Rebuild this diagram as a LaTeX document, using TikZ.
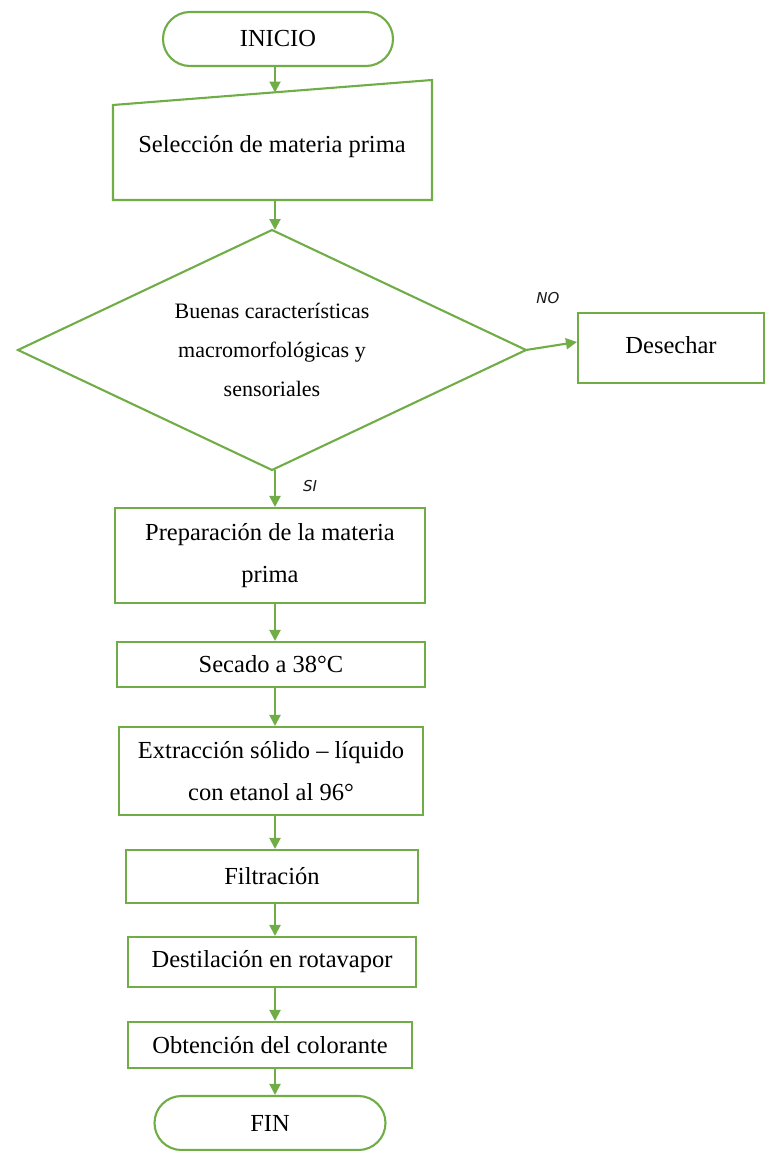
\documentclass[tikz,border=0pt]{standalone}
\usepackage{fontspec}
\setmainfont{Liberation Serif}
\newfontfamily\tagfont{DejaVu Sans}
\usetikzlibrary{shapes.misc,arrows.meta,calc}
\definecolor{flowgreen}{HTML}{70AD47}
\definecolor{tagink}{HTML}{1A1A1A}

\begin{document}
\begin{tikzpicture}[x=1pt,y=-1pt,
  outline/.style={draw=flowgreen,line width=2.1pt},
  txt/.style={font=\fontsize{24.5}{42}\selectfont,align=center,inner sep=0pt},
  stepbox/.style={outline,rectangle,txt},
  terminal/.style={outline,rounded rectangle,txt,minimum width=230pt,minimum height=54pt},
  ghost/.style={rectangle,inner sep=0pt,outer sep=0pt},
  flow/.style={draw=flowgreen,line width=2.1pt,-{Triangle[length=11pt,width=11pt]}},
  tag/.style={font=\tagfont\itshape\fontsize{15}{17}\selectfont,text=tagink,inner sep=0pt}
]
\useasboundingbox (0,0) rectangle (766,1151);

% vertical line along which the main connectors run
\coordinate (spine) at (275,0);

% start
\node[terminal] (inicio) at (278,39) {INICIO};

% manual-input shape with slanted top edge
\node[ghost,minimum width=319pt,minimum height=120pt] (sel) at (272.5,140) {};
\draw[outline] ($(sel.north west)+(0,25)$) -- (sel.north east) -- (sel.south east)
  -- (sel.south west) -- cycle;
\node[txt] (seltext) at (272,147) {Selección de materia prima};
\coordinate (selin) at (275,92.5);

% decision diamond drawn through the corners of its frame
\node[ghost,minimum width=508pt,minimum height=240pt,
  font=\fontsize{22}{39}\selectfont,align=center] (dec) at (272,350)
  {Buenas características\\macromorfológicas y\\sensoriales};
\draw[outline,line join=miter] (dec.north) -- (dec.east) -- (dec.south) -- (dec.west) -- cycle;

% reject branch
\node[stepbox,minimum width=186pt,minimum height=70pt] (desechar) at (671,348) {\raisebox{7pt}{Desechar}};

% process steps
\node[stepbox,minimum width=310pt,minimum height=95pt] (prep) at (270,555.5) {Preparación de la materia\\prima};
\node[stepbox,minimum width=308pt,minimum height=45pt] (secado) at (271,664.5) {Secado a 38°C};
\node[stepbox,minimum width=304pt,minimum height=88pt] (extr) at (271,771) {Extracción sólido – líquido\\con etanol al 96°};
\node[stepbox,minimum width=292pt,minimum height=53pt] (filt) at (272,876.5) {Filtración};
\node[stepbox,minimum width=288pt,minimum height=50pt] (dest) at (272,962) {Destilación en rotavapor};
\node[stepbox,minimum width=284pt,minimum height=46pt] (obt) at (270,1045) {Obtención del colorante};

% end
\node[terminal,minimum width=231pt] (fin) at (270,1123) {FIN};

% branch labels
\node[tag] (no) at (548,298) {NO};
\node[tag] (si) at (310,486) {SI};

% connectors
\draw[flow] (inicio.south -| spine) -- (selin);
\draw[flow] (sel.south -| spine) -- (dec.north -| spine);
\draw[flow] (dec.east) -- ([yshift=6pt]desechar.west);
\draw[flow] (dec.south -| spine) -- (prep.north -| spine);
\draw[flow] (prep.south -| spine) -- (secado.north -| spine);
\draw[flow] (secado.south -| spine) -- (extr.north -| spine);
\draw[flow] (extr.south -| spine) -- (filt.north -| spine);
\draw[flow] (filt.south -| spine) -- (dest.north -| spine);
\draw[flow] (dest.south -| spine) -- (obt.north -| spine);
\draw[flow] (obt.south -| spine) -- (fin.north -| spine);
\end{tikzpicture}
\end{document}
